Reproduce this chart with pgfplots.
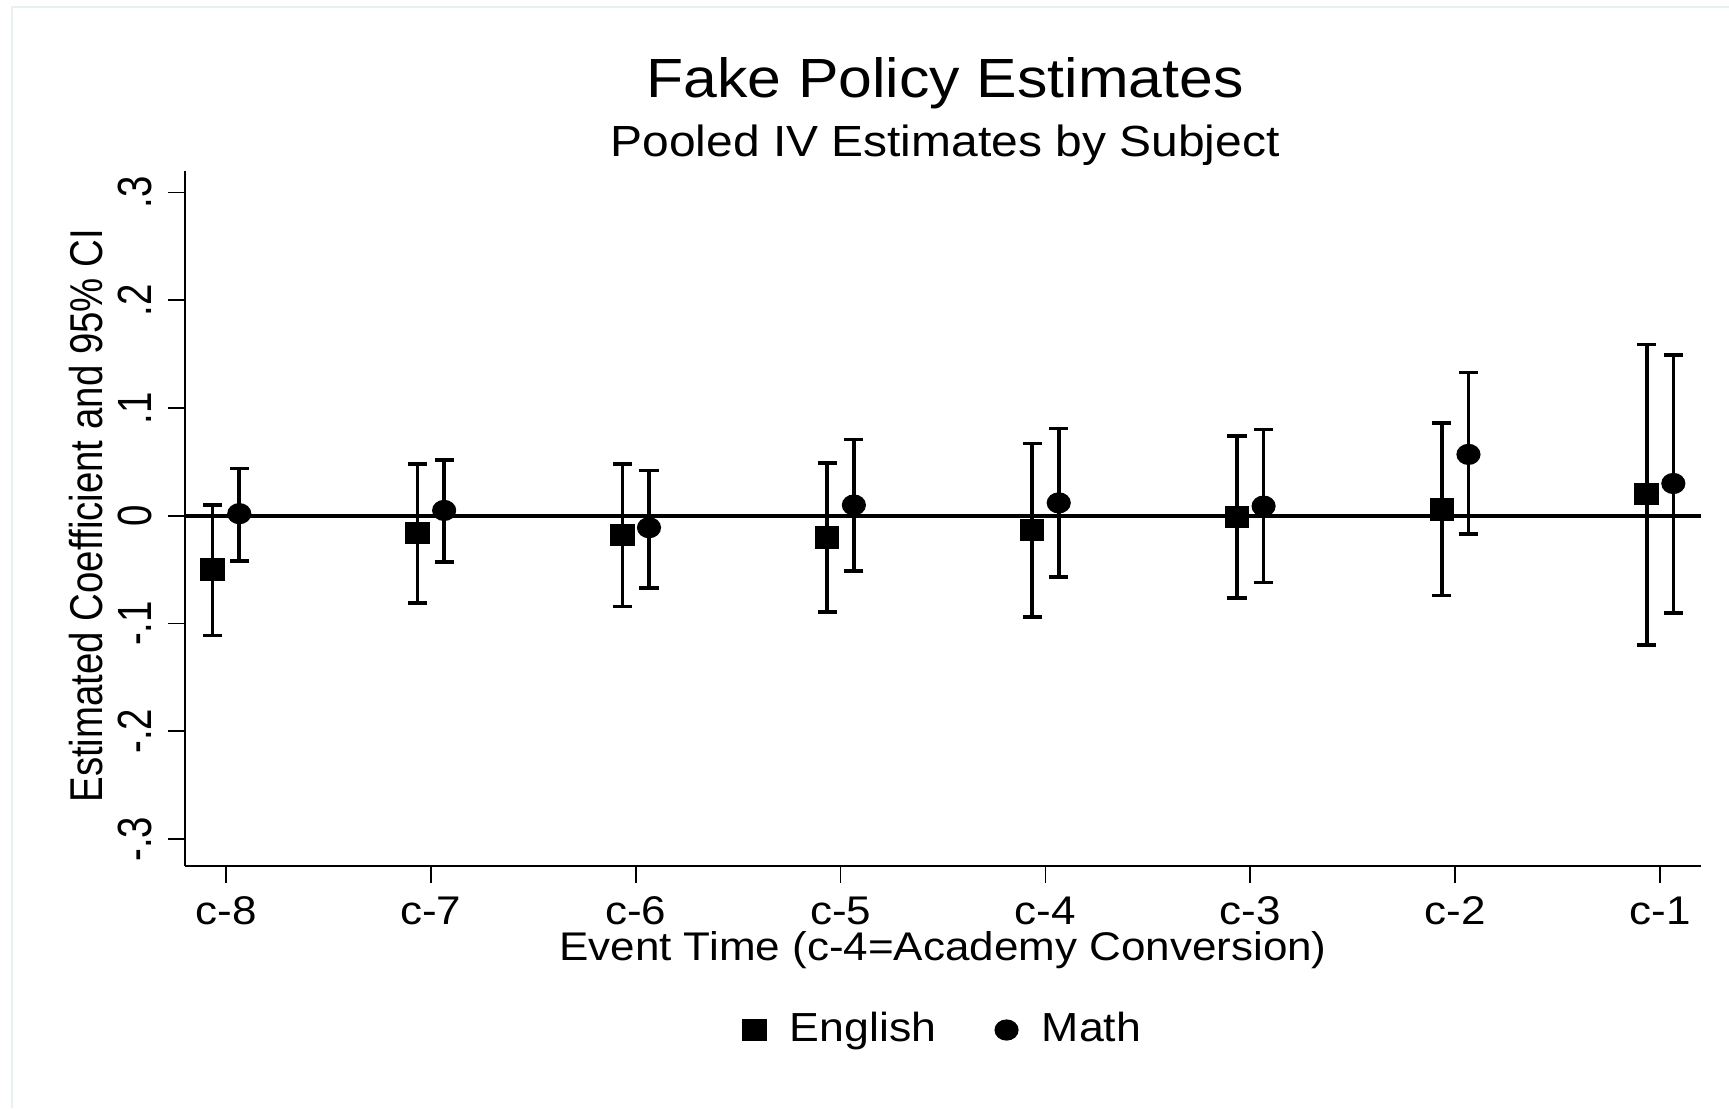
\documentclass[border=0pt]{standalone}
\usepackage{pgfplots}
\pgfplotsset{compat=1.18}
\usepackage{pgfplotstable}
\usepackage{fontspec}
\setmainfont{Liberation Sans}[FakeStretch=1.1]
\newfontfamily\rotfont{Liberation Sans}[FakeStretch=0.835]
\newfontfamily\rottick{Liberation Sans}[FakeStretch=0.8]
\definecolor{borderc}{RGB}{232,240,241}

\pgfplotstableread{
x y hi lo
0.935 -0.050 0.010 -0.111
1.935 -0.016 0.048 -0.081
2.935 -0.018 0.048 -0.084
3.935 -0.020 0.049 -0.089
4.935 -0.013 0.067 -0.094
5.935 -0.001 0.074 -0.076
6.935 0.006 0.086 -0.074
7.935 0.020 0.159 -0.120
}\english

\pgfplotstableread{
x y hi lo
1.065 0.002 0.044 -0.042
2.065 0.005 0.052 -0.043
3.065 -0.011 0.042 -0.067
4.065 0.010 0.071 -0.051
5.065 0.012 0.081 -0.057
6.065 0.009 0.080 -0.062
7.065 0.057 0.133 -0.017
8.065 0.030 0.149 -0.090
}\math

\begin{document}
\begin{tikzpicture}
\useasboundingbox (-46.25pt,-60.5pt) rectangle (386pt,216.5pt);
\draw[color=borderc, line width=0.6pt] (-43.25pt,-60.5pt) -- (-43.25pt,214.75pt) -- (386pt,214.75pt);
\node[anchor=base, inner sep=0pt, font=\fontsize{13.8}{16}\selectfont] at (190pt,192.25pt) {Fake Policy Estimates};
\node[anchor=base, inner sep=0pt, font=\fontsize{10.9}{13}\selectfont] at (190pt,177.3pt) {Pooled IV Estimates by Subject};
\begin{axis}[
  at={(0,0)}, anchor=south west,
  scale only axis, width=379pt, height=173.75pt,
  xmin=0.8, xmax=8.2, ymin=-0.325, ymax=0.32,
  axis lines*=left,
  axis line style={line width=0.45pt, black, -},
  tick align=outside,
  major tick length=4.25pt,
  tick style={line width=0.45pt, black},
  xtick={1,2,3,4,5,6,7,8},
  xticklabels={c-8,c-7,c-6,c-5,c-4,c-3,c-2,c-1},
  ytick={-0.3,-0.2,-0.1,0,0.1,0.2,0.3},
  yticklabels={{-.3},{-.2},{-.1},0,.1,.2,.3},
  xticklabel style={font=\fontsize{10}{12}\selectfont, anchor=base, inner sep=0pt, yshift=-10.3pt},
  yticklabel style={xshift=-4pt, font=\rottick\fontsize{12}{14}\selectfont, rotate=90, anchor=base, inner sep=0pt},
  xlabel={Event Time (c-4=Academy Conversion)},
  ylabel={Estimated Coefficient and 95\% CI},
  xlabel style={at={(axis description cs:0.5,-0.1353)}, anchor=base, inner sep=0pt, font=\fontsize{10}{12}\selectfont},
  ylabel style={at={(axis description cs:-0.0545,0.504)}, anchor=base, inner sep=0pt, font=\rotfont\fontsize{11.5}{13}\selectfont},
  legend style={draw=none, fill=none, at={(axis description cs:0.502,-0.236)}, anchor=center,
    font=\fontsize{10.15}{12}\selectfont,
    /tikz/every odd column/.append style={column sep=4pt},
    /tikz/every even column/.append style={column sep=12.75pt}},
  legend columns=2,
  legend cell align=left,
]
\addplot[black, line width=0.95pt, forget plot] coordinates {(0.8,0) (8.2,0)};
\addplot[only marks, mark=square*, mark size=2.6pt, mark options={xscale=1.1, black, fill=black},
  error bars/.cd, y dir=both, y explicit,
  error bar style={line width=0.9pt, black},
  error mark options={line width=0.9pt, mark size=2.4pt, black, rotate=90}]
  table[x=x, y=y, y error plus expr=\thisrow{hi}-\thisrow{y}, y error minus expr=\thisrow{y}-\thisrow{lo}] {\english};
\addlegendentry{English}
\addplot[only marks, mark=*, mark size=2.45pt, mark options={xscale=1.15, black, fill=black},
  error bars/.cd, y dir=both, y explicit,
  error bar style={line width=0.9pt, black},
  error mark options={line width=0.9pt, mark size=2.4pt, black, rotate=90}]
  table[x=x, y=y, y error plus expr=\thisrow{hi}-\thisrow{y}, y error minus expr=\thisrow{y}-\thisrow{lo}] {\math};
\addlegendentry{Math}
\end{axis}
\end{tikzpicture}
\end{document}
